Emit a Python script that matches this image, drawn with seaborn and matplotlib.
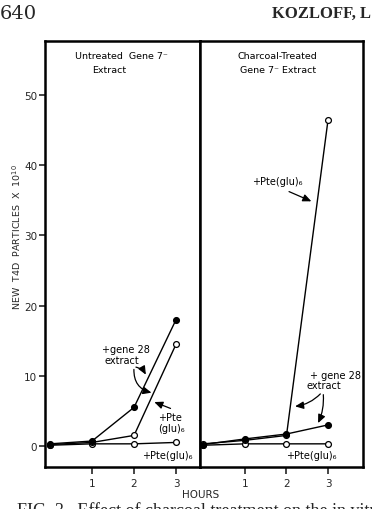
import matplotlib
matplotlib.use("Agg")
import matplotlib.pyplot as plt
import seaborn as sns
import pandas as pd

sns.set_style("ticks")
plt.rcParams['font.family'] = ['DejaVu Sans']

hours = [0, 1, 2, 3]
# Left panel: Untreated Gene 7- extract
left_gene28 = [0.3, 0.7, 5.5, 18.0]
left_pte_high = [0.2, 0.5, 1.5, 14.5]
left_pte_low = [0.1, 0.3, 0.3, 0.5]
# Right panel: Charcoal-treated Gene 7- extract
right_pte_high = [0.3, 0.8, 1.5, 46.5]
right_gene28 = [0.2, 1.0, 1.7, 3.0]
right_pte_low = [0.1, 0.3, 0.3, 0.3]

y_ticks = [0, 10, 20, 30, 40, 50]
x_ticks = [1, 2, 3]

fig = plt.figure(figsize=(3.72, 5.10), dpi=100)
axL = fig.add_axes([45/372, 42/510, 155/372, 426/510])
axR = fig.add_axes([200/372, 42/510, 163/372, 426/510], sharey=axL)

def draw(ax, series):
    for vals, filled in series:
        df = pd.DataFrame({"h": hours, "v": vals})
        sns.lineplot(data=df, x="h", y="v", ax=ax, color="black", lw=1.0,
                     marker="o", markersize=4.2, markeredgecolor="black",
                     markeredgewidth=0.9,
                     markerfacecolor="black" if filled else "white")

draw(axL, [(left_pte_low, False), (left_pte_high, False), (left_gene28, True)])
draw(axR, [(right_pte_low, False), (right_pte_high, False), (right_gene28, True)])

axL.set_xlim(-0.12, 3.57)
axR.set_xlim(-0.08, 3.84)
axL.set_ylim(-3.0, 57.7)

for ax in (axL, axR):
    for s in ax.spines.values():
        s.set_linewidth(1.8)
        s.set_color("black")
    ax.set_xlabel("")
    ax.set_ylabel("")
    ax.set_xticks(x_ticks)
    ax.set_xticklabels([str(t) for t in x_ticks], fontsize=7.5)
    ax.tick_params(axis="x", direction="out", length=5, width=1.2, pad=3)

axL.set_yticks(y_ticks)
axL.set_yticklabels([str(t) for t in y_ticks], fontsize=7.5)
axL.tick_params(axis="y", direction="out", length=4, width=1.2, pad=1.5)
axR.tick_params(axis="y", left=False, labelleft=False)

# Panel titles
tkw = dict(fontsize=6.8, ha="center", va="center", color="black")
axL.text(1.71, 55.6, "Untreated  Gene 7\u207b", **tkw)
axL.text(1.40, 53.6, "Extract", **tkw)
axR.text(1.77, 55.7, "Charcoal-Treated", **tkw)
axR.text(1.80, 53.6, "Gene 7\u207b Extract", **tkw)

akw = dict(fontsize=7, ha="center", va="center", color="black")
arw = dict(arrowstyle="-|>,head_length=0.5,head_width=0.22", color="black", lw=0.9)

# Left panel annotations
axL.text(1.80, 13.8, "+gene 28", **akw)
axL.text(1.72, 12.2, "extract", **akw)
axL.annotate("", xy=(2.31, 9.8), xytext=(1.98, 11.3),
             arrowprops=dict(connectionstyle="arc3,rad=-0.3", **arw))
axL.annotate("", xy=(2.48, 7.5), xytext=(2.0, 11.3),
             arrowprops=dict(connectionstyle="arc3,rad=0.45", **arw))
axL.text(2.85, 4.1, "+Pte", **akw)
axL.text(2.88, 2.6, "(glu)\u2086", **akw)
axL.annotate("", xy=(2.42, 6.4), xytext=(2.93, 5.2),
             arrowprops=dict(connectionstyle="arc3,rad=0.0", **arw))
axL.text(2.79, -1.35, "+Pte(glu)\u2086", **akw)

# Right panel annotations
axR.text(1.77, 37.8, "+Pte(glu)\u2086", **akw)
axR.annotate("", xy=(2.66, 34.7), xytext=(2.0, 36.4),
             arrowprops=dict(connectionstyle="arc3,rad=0.0", **arw))
axR.text(3.19, 10.1, "+ gene 28", **akw)
axR.text(2.90, 8.7, "extract", **akw)
axR.annotate("", xy=(2.14, 5.6), xytext=(2.86, 7.7),
             arrowprops=dict(connectionstyle="arc3,rad=-0.2", **arw))
axR.annotate("", xy=(2.73, 2.9), xytext=(2.88, 7.7),
             arrowprops=dict(connectionstyle="arc3,rad=-0.15", **arw))
axR.text(2.0, -1.35, "+Pte(glu)\u2086", **dict(akw, ha="left"))

# Axis labels
fig.text(17/372, 1 - 237/510, "NEW  T4D  PARTICLES  X  10$^{10}$", rotation=90,
         fontsize=6.8, ha="center", va="center")
fig.text(201/372, 1 - 495/510, "HOURS", fontsize=7.5, ha="center", va="center")

# Page header and caption
fig.text(0.0, 1 - 14/510, "640", fontsize=14, family="DejaVu Serif",
         ha="left", va="center")
fig.text(272/372, 1 - 14/510, "KOZLOFF, L", fontsize=12, family="Liberation Serif",
         weight="bold", ha="left", va="center")
fig.text(17/372, 1 - 503/510, "FIG. 3.  Effect of charcoal treatment on the in vitro",
         fontsize=13, family="Liberation Serif", ha="left", va="top")

fig.savefig("out.png", dpi=100)
